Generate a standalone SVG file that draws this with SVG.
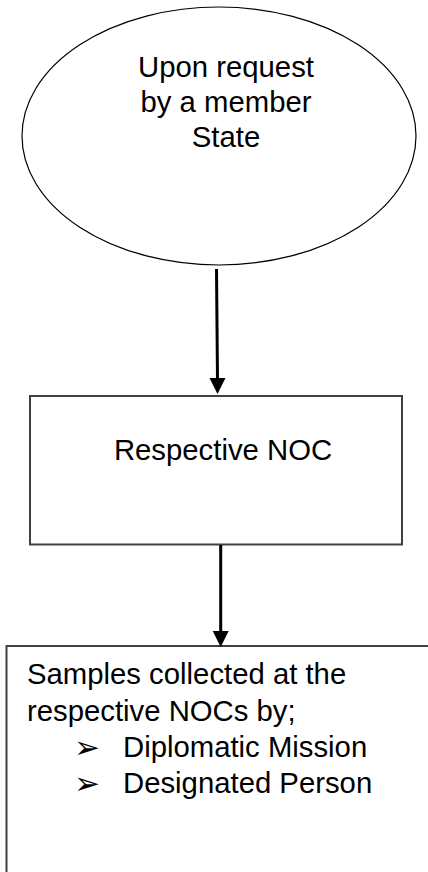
<svg xmlns="http://www.w3.org/2000/svg" width="428" height="872" viewBox="0 0 428 872">
<style>
text{font-family:"Liberation Sans",Arial,sans-serif;font-size:29.3px;fill:#000}
.c{text-anchor:middle}
.b{font-size:31px}
.box{fill:#fff;stroke:#404040;stroke-width:2}
.conn{stroke:#000;stroke-width:3;fill:none}
.head{fill:#000}
</style>
<rect width="428" height="872" fill="#fff"/>
<g id="node-request">
<ellipse cx="219" cy="136" rx="197" ry="129" fill="#fff" stroke="#000" stroke-width="1.2"/>
<text class="c" x="226" y="77">Upon request</text>
<text class="c" x="226" y="112">by a member</text>
<text class="c" x="226" y="147">State</text>
</g>
<g id="node-noc">
<rect class="box" x="30" y="396" width="372" height="148.5"/>
<text class="c" x="223" y="460">Respective NOC</text>
</g>
<g id="node-samples">
<rect class="box" x="6.5" y="646" width="440" height="260"/>
<text x="27" y="684">Samples collected at the</text>
<text x="27" y="721">respective NOCs by;</text>
<text class="b" x="74" y="758">➢</text>
<text x="123" y="757">Diplomatic Mission</text>
<text class="b" x="74" y="794">➢</text>
<text x="123" y="793">Designated Person</text>
</g>
<g id="connectors">
<line class="conn" x1="216.5" y1="269" x2="217.5" y2="380"/>
<polygon class="head" points="209.5,378 225.5,378 217.5,394"/>
<line class="conn" x1="220.7" y1="545" x2="220.7" y2="633"/>
<polygon class="head" points="212.7,631 228.7,631 220.7,647"/>
</g>
</svg>
